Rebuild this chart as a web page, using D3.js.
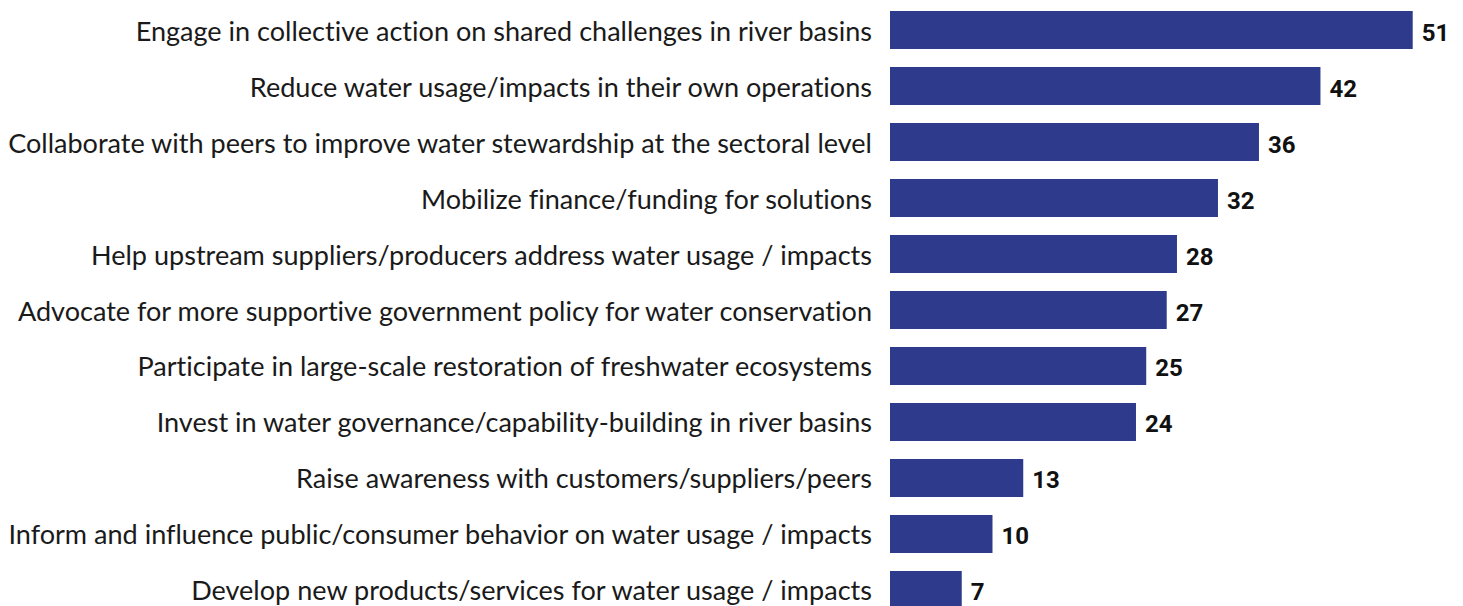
<!DOCTYPE html>
<html>
<head>
<meta charset="utf-8">
<script src="https://cdn.jsdelivr.net/npm/d3@7"></script>
<style>
  html, body { margin: 0; padding: 0; background: #ffffff; }
  svg { display: block; }
  text { font-variant-ligatures: none; font-feature-settings: "liga" 0; }
</style>
</head>
<body>
<svg id="chart" width="1463" height="606"></svg>
<script>
// Actions companies plan to take on water (number of respondents)
const actions = [
  "Engage in collective action on shared challenges in river basins",
  "Reduce water usage/impacts in their own operations",
  "Collaborate with peers to improve water stewardship at the sectoral level",
  "Mobilize finance/funding for solutions",
  "Help upstream suppliers/producers address water usage / impacts",
  "Advocate for more supportive government policy for water conservation",
  "Participate in large-scale restoration of freshwater ecosystems",
  "Invest in water governance/capability-building in river basins",
  "Raise awareness with customers/suppliers/peers",
  "Inform and influence public/consumer behavior on water usage / impacts",
  "Develop new products/services for water usage / impacts"
];
const counts = [51, 42, 36, 32, 28, 27, 25, 24, 13, 10, 7];

const svg = d3.select("#chart");
const barColor = "#2e3a8c";

const x = d3.scaleLinear().domain([0, 51]).range([890, 1412.7]);
const y = d3.scaleBand()
  .domain(actions)
  .range([11, 609])
  .paddingInner(0.3214)
  .paddingOuter(0);

const rows = actions.map((a, i) => ({ label: a, value: counts[i] }));
const baseline = d => y(d.label) + y.bandwidth() / 2 + 10.5;

// bars
svg.append("g")
  .selectAll("rect")
  .data(rows)
  .join("rect")
  .attr("x", x(0))
  .attr("y", d => y(d.label))
  .attr("width", d => x(d.value) - x(0))
  .attr("height", y.bandwidth())
  .attr("fill", barColor);

// category labels, right-aligned against the bars
const labelG = svg.append("g")
  .attr("font-family", "Lato, 'Open Sans', sans-serif")
  .attr("font-size", 25)
  .attr("fill", "#1a1a1a");

const labels = labelG.selectAll("text")
  .data(rows)
  .join("text")
  .attr("x", 872)
  .attr("y", baseline)
  .attr("text-anchor", "end")
  .text(d => d.label);

// size the label font so the longest label fills the space left of the bars
let widest = 0;
labels.each(function () { widest = Math.max(widest, this.getComputedTextLength()); });
labelG.attr("font-size", 25 * 864 / widest);

// value labels
svg.append("g")
  .attr("font-family", "Roboto, Arial, sans-serif")
  .attr("font-weight", 700)
  .attr("font-size", 24)
  .attr("fill", "#111111")
  .selectAll("text")
  .data(rows)
  .join("text")
  .attr("x", d => x(d.value) + 9)
  .attr("y", baseline)
  .text(d => d.value);
</script>
</body>
</html>
